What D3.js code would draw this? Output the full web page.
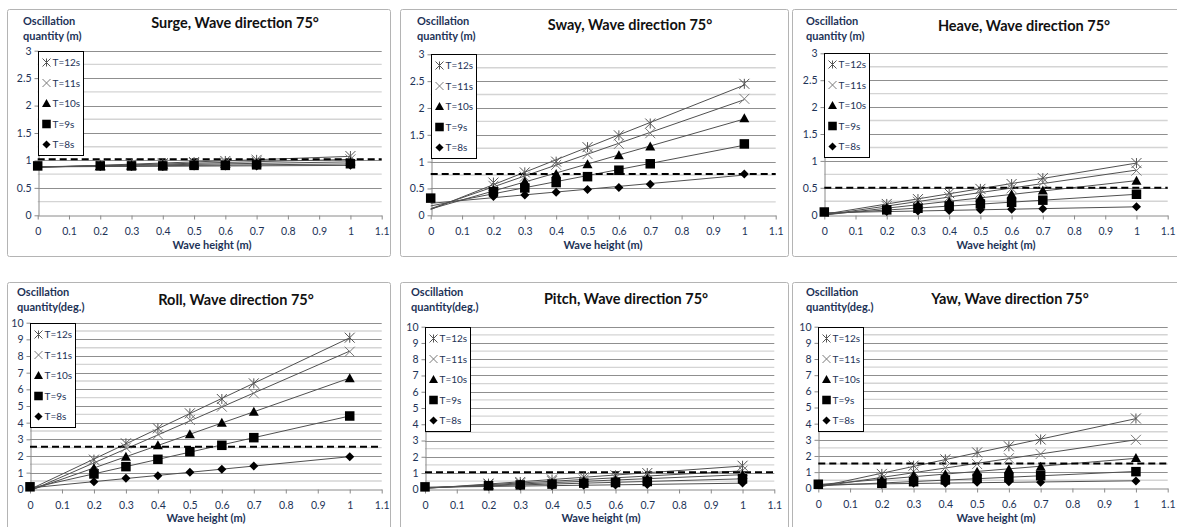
<!DOCTYPE html>
<html><head><meta charset="utf-8">
<script src="https://cdn.jsdelivr.net/npm/d3@7"></script>
<style>
body{margin:0;background:#fff;}
svg{display:block;font-family:Lato,"Open Sans",sans-serif;}
</style>
</head><body>
<svg id="c" width="1177" height="527"></svg>
<script>
// ---------------- DATA ----------------
const waveHeights = [0.2, 0.3, 0.4, 0.5, 0.6, 0.7, 1.0];
const periods = ["T=12s", "T=11s", "T=10s", "T=9s", "T=8s"];
const xTicks = [0, 0.1, 0.2, 0.3, 0.4, 0.5, 0.6, 0.7, 0.8, 0.9, 1, 1.1];
const yTicksMetre = [0, 0.5, 1, 1.5, 2, 2.5, 3];
const yTicksDegree = [0, 1, 2, 3, 4, 5, 6, 7, 8, 9, 10];
const chartTitles = ["Surge, Wave direction 75°", "Sway, Wave direction 75°", "Heave, Wave direction 75°",
                     "Roll, Wave direction 75°", "Pitch, Wave direction 75°", "Yaw, Wave direction 75°"];
const yAxisTitles = [["Oscillation", "quantity (m)"], ["Oscillation", "quantity (m)"], ["Oscillation", "quantity (m)"],
                     ["Oscillation", "quantity(deg.)"], ["Oscillation", "quantity(deg.)"], ["Oscillation", "quantity(deg.)"]];
const xAxisTitle = "Wave height (m)";
const limitLevels = [1.02, 0.77, 0.50, 2.56, 1.05, 1.53];   // dashed horizontal line
const calmLevels = [0.90, 0.32, 0.05, 0.15, 0.15, 0.25];    // marker at wave height 0

// series order: T=12s, T=11s, T=10s, T=9s, T=8s
const surge = [
  [0.92, 0.93, 0.95, 0.97, 0.99, 1.01, 1.08],
  [0.91, 0.92, 0.93, 0.95, 0.96, 0.98, 1.02],
  [0.90, 0.91, 0.92, 0.93, 0.94, 0.95, 0.97],
  [0.90, 0.90, 0.90, 0.91, 0.91, 0.92, 0.94],
  [0.89, 0.89, 0.89, 0.90, 0.90, 0.90, 0.91]
];
const sway = [
  [0.61, 0.80, 1.00, 1.27, 1.49, 1.71, 2.45],
  [0.55, 0.72, 0.94, 1.14, 1.33, 1.53, 2.17],
  [0.47, 0.63, 0.77, 0.95, 1.12, 1.28, 1.81],
  [0.44, 0.51, 0.61, 0.72, 0.84, 0.96, 1.33],
  [0.35, 0.38, 0.43, 0.48, 0.52, 0.58, 0.77]
];
const heave = [
  [0.20, 0.29, 0.40, 0.48, 0.57, 0.68, 0.96],
  [0.16, 0.24, 0.33, 0.41, 0.49, 0.60, 0.82],
  [0.13, 0.18, 0.24, 0.31, 0.38, 0.45, 0.63],
  [0.09, 0.12, 0.16, 0.20, 0.23, 0.27, 0.38],
  [0.06, 0.07, 0.08, 0.09, 0.10, 0.11, 0.15]
];
const roll = [
  [1.78, 2.76, 3.66, 4.56, 5.42, 6.36, 9.10],
  [1.46, 2.50, 3.30, 4.16, 4.96, 5.76, 8.26],
  [1.26, 1.96, 2.64, 3.30, 4.00, 4.66, 6.66],
  [0.92, 1.36, 1.80, 2.26, 2.64, 3.10, 4.40],
  [0.46, 0.66, 0.82, 1.02, 1.20, 1.40, 1.96]
];
const pitch = [
  [0.35, 0.45, 0.60, 0.75, 0.86, 1.00, 1.45],
  [0.30, 0.38, 0.50, 0.60, 0.70, 0.80, 1.15],
  [0.25, 0.32, 0.40, 0.50, 0.57, 0.65, 0.90],
  [0.22, 0.27, 0.32, 0.38, 0.42, 0.48, 0.65],
  [0.18, 0.20, 0.22, 0.25, 0.27, 0.30, 0.38]
];
const yaw = [
  [0.89, 1.40, 1.79, 2.22, 2.60, 3.02, 4.32],
  [0.62, 1.03, 1.28, 1.50, 1.86, 2.12, 3.00],
  [0.52, 0.80, 0.87, 1.03, 1.18, 1.34, 1.88],
  [0.31, 0.41, 0.52, 0.62, 0.68, 0.78, 1.03],
  [0.25, 0.31, 0.31, 0.37, 0.41, 0.37, 0.45]
];
const panelSeries = [surge, sway, heave, roll, pitch, yaw];
const panelYTicks = [yTicksMetre, yTicksMetre, yTicksMetre, yTicksDegree, yTicksDegree, yTicksDegree];

// ---------------- LAYOUT ----------------
const layout = [
  {box:[7,9,383,247],   plot:{l:37.7, r:381.7, t:50.7, b:215.3}, title:[235,28],  ytitle:[23,25],  xtitle:[212,249]},
  {box:[400,9,388,247], plot:{l:430.7,r:775.7, t:54.3, b:215.3}, title:[630,30],  ytitle:[417,25], xtitle:[603,249]},
  {box:[792,9,400,247], plot:{l:824.3,r:1167.7,t:53.3, b:214.7}, title:[1024,31], ytitle:[806,25], xtitle:[996,249]},
  {box:[7,282,383,260], plot:{l:30,   r:381.7, t:322.7,b:489.3}, title:[236,305], ytitle:[17,296], xtitle:[206,522]},
  {box:[400,282,388,260],plot:{l:425, r:774.3, t:326.7,b:489.3}, title:[626,304], ytitle:[411,296],xtitle:[601,522]},
  {box:[792,282,400,260],plot:{l:818.3,r:1167.7,t:326.7,b:488.3},title:[1010,304],ytitle:[806,296],xtitle:[996,522]}
];

const svg = d3.select("#c");
const navy = "#1d3357";

function drawMarker(g, kind, cx, cy, s) {
  const h = s / 2;
  if (kind === 0) { // asterisk
    g.append("path").attr("d", `M${cx-h},${cy-h}L${cx+h},${cy+h}M${cx-h},${cy+h}L${cx+h},${cy-h}M${cx},${cy-h}L${cx},${cy+h}`)
      .attr("stroke", "#555").attr("stroke-width", 1).attr("fill", "none");
  } else if (kind === 1) { // x
    g.append("path").attr("d", `M${cx-h},${cy-h}L${cx+h},${cy+h}M${cx-h},${cy+h}L${cx+h},${cy-h}`)
      .attr("stroke", "#7a7a7a").attr("stroke-width", 1).attr("fill", "none");
  } else if (kind === 2) { // triangle
    g.append("path").attr("d", `M${cx},${cy-h}L${cx+h},${cy+h*0.8}L${cx-h},${cy+h*0.8}Z`).attr("fill", "#000");
  } else if (kind === 3) { // square
    const q = h * 0.95;
    g.append("rect").attr("x", cx-q).attr("y", cy-q).attr("width", 2*q).attr("height", 2*q).attr("fill", "#000");
  } else { // diamond
    const d = h * 0.9;
    g.append("path").attr("d", `M${cx},${cy-d}L${cx+d},${cy}L${cx},${cy+d}L${cx-d},${cy}Z`).attr("fill", "#000");
  }
}

function fit(xs, ys) {
  const n = xs.length, mx = d3.mean(xs), my = d3.mean(ys);
  let sxy = 0, sxx = 0;
  for (let i = 0; i < n; i++) { sxy += (xs[i]-mx)*(ys[i]-my); sxx += (xs[i]-mx)**2; }
  const slope = sxy / sxx;
  return {slope, intercept: my - slope*mx};
}

layout.forEach((L, p) => {
  const g = svg.append("g");
  const yt = panelYTicks[p];
  const yMax = yt[yt.length-1];
  const x = d3.scaleLinear().domain([0, 1.1]).range([L.plot.l, L.plot.r]);
  const y = d3.scaleLinear().domain([0, yMax]).range([L.plot.b, L.plot.t]);

  // chart area border
  g.append("rect").attr("x", L.box[0]+0.5).attr("y", L.box[1]+0.5).attr("width", L.box[2]).attr("height", L.box[3])
    .attr("fill", "#fff").attr("stroke", "#b4b4b4").attr("stroke-width", 1).attr("rx", 2);

  // minor gridlines
  const step = yt[1] - yt[0];
  const minor = d3.range(step/2, yMax, step);
  g.selectAll(null).data(minor).join("line")
    .attr("x1", L.plot.l).attr("x2", L.plot.r)
    .attr("y1", d => y(d)).attr("y2", d => y(d))
    .attr("stroke", "#d4d4d4").attr("stroke-width", 1.4);
  // major gridlines
  g.selectAll(null).data(yt.filter(d => d > 0)).join("line")
    .attr("x1", L.plot.l).attr("x2", L.plot.r)
    .attr("y1", d => Math.round(y(d))+0.5).attr("y2", d => Math.round(y(d))+0.5)
    .attr("stroke", "#8f8f8f").attr("stroke-width", 1);

  // x axis
  const xa = g.append("g").attr("transform", `translate(0,${Math.round(L.plot.b)+0.5})`)
    .call(d3.axisBottom(x).tickValues(xTicks).tickSize(4).tickSizeOuter(0).tickFormat(d => d3.format("")(+d.toFixed(1))));
  xa.select(".domain").attr("stroke", "#8a8a8a");
  xa.selectAll(".tick line").attr("stroke", "#8a8a8a");
  xa.selectAll(".tick text").attr("fill", navy).attr("font-size", 10.5).attr("font-family", "Lato").attr("dy", "1.15em");
  // y axis
  const ya = g.append("g").attr("transform", `translate(${Math.round(L.plot.l)+0.5},0)`)
    .call(d3.axisLeft(y).tickValues(yt).tickSize(4).tickSizeOuter(0).tickFormat(d3.format("")));
  ya.select(".domain").attr("stroke", "#8a8a8a");
  ya.selectAll(".tick line").attr("stroke", "#8a8a8a");
  ya.selectAll(".tick text").attr("fill", navy).attr("font-size", 10.5).attr("font-family", "Lato").attr("x", -7);

  // trendlines
  const series = panelSeries[p];
  series.forEach((vals, si) => {
    const f = fit(waveHeights, vals);
    g.append("line")
      .attr("x1", x(0)).attr("y1", y(f.intercept))
      .attr("x2", x(1)).attr("y2", y(f.intercept + f.slope))
      .attr("stroke", "#505050").attr("stroke-width", 1);
  });

  // dashed limit line
  g.append("line").attr("x1", L.plot.l).attr("x2", L.plot.r)
    .attr("y1", y(limitLevels[p])).attr("y2", y(limitLevels[p]))
    .attr("stroke", "#000").attr("stroke-width", 2).attr("stroke-dasharray", "7,4");

  // markers
  series.forEach((vals, si) => {
    vals.forEach((v, i) => drawMarker(g, si, x(waveHeights[i]), y(v), si === 4 ? 10 : 10));
  });
  drawMarker(g, 3, x(0), y(calmLevels[p]), 10);

  // legend
  const lx = Math.round(L.plot.l) + 0.5, ly = Math.round(L.plot.t) + 0.5;
  g.append("rect").attr("x", lx).attr("y", ly).attr("width", 45).attr("height", 104)
    .attr("fill", "#fff").attr("stroke", "#000").attr("stroke-width", 1);
  periods.forEach((name, si) => {
    const cy = ly + 11 + si * 20.5;
    drawMarker(g, si, lx + 8, cy, si < 2 ? 8 : 9);
    g.append("text").attr("x", lx + 14).attr("y", cy).attr("dy", "0.35em")
      .attr("font-size", 10).attr("fill", navy).text(name);
  });

  // titles
  g.append("text").attr("x", L.title[0]).attr("y", L.title[1]).attr("text-anchor", "middle")
    .attr("font-size", 14.5).attr("font-weight", "bold").attr("fill", "#111").text(chartTitles[p]);
  yAxisTitles[p].forEach((t, i) => {
    g.append("text").attr("x", L.ytitle[0]).attr("y", L.ytitle[1] + i*15)
      .attr("font-size", 11).attr("font-weight", "bold").attr("fill", navy).text(t);
  });
  g.append("text").attr("x", L.xtitle[0]).attr("y", L.xtitle[1]).attr("text-anchor", "middle")
    .attr("font-size", 11).attr("font-weight", "bold").attr("fill", navy).text(xAxisTitle);
});
</script>
</body></html>
